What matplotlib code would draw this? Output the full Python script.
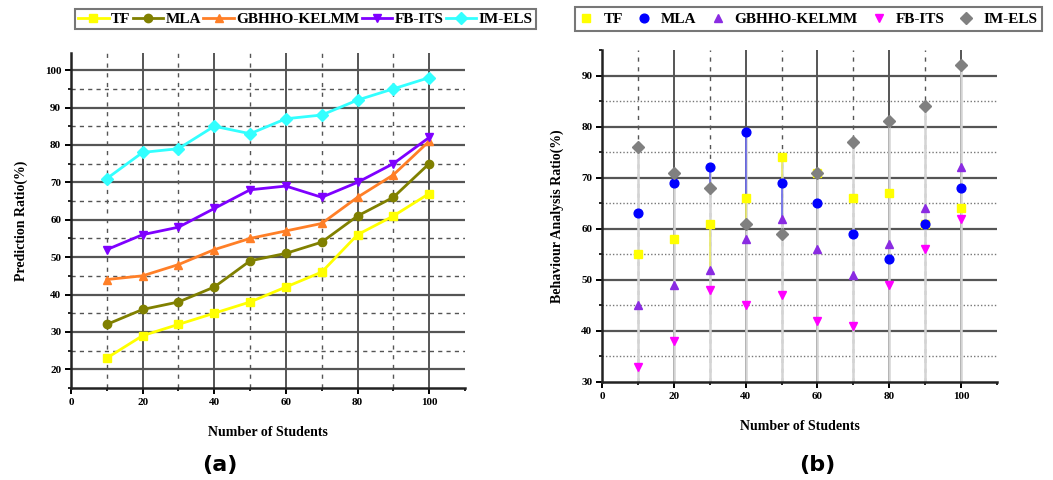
import numpy as np
import matplotlib
matplotlib.use('Agg')
import matplotlib.pyplot as plt
from matplotlib.ticker import MultipleLocator

# data
students = [10, 20, 30, 40, 50, 60, 70, 80, 90, 100]
series_names = ['TF', 'MLA', 'GBHHO-KELMM', 'FB-ITS', 'IM-ELS']

pred_tf = [23, 29, 32, 35, 38, 42, 46, 56, 61, 67]
pred_mla = [32, 36, 38, 42, 49, 51, 54, 61, 66, 75]
pred_gbhho = [44, 45, 48, 52, 55, 57, 59, 66, 72, 81]
pred_fbits = [52, 56, 58, 63, 68, 69, 66, 70, 75, 82]
pred_imels = [71, 78, 79, 85, 83, 87, 88, 92, 95, 98]

beh_tf = [55, 58, 61, 66, 74, 71, 66, 67, 61, 64]
beh_mla = [63, 69, 72, 79, 69, 65, 59, 54, 61, 68]
beh_gbhho = [45, 49, 52, 58, 62, 56, 51, 57, 64, 72]
beh_fbits = [33, 38, 48, 45, 47, 42, 41, 49, 56, 62]
beh_imels = [76, 71, 68, 61, 59, 71, 77, 81, 84, 92]

# columns where the drop lines take the marker colour
coloured_cols = [30, 40, 50]

serif = 'Liberation Serif'
plt.rcParams['font.family'] = serif
plt.rcParams['font.weight'] = 'bold'

fig = plt.figure(figsize=(10.53, 4.8), dpi=100)
ax1 = fig.add_axes([0.0674, 0.1917, 0.3742, 0.698])
ax2 = fig.add_axes([0.5717, 0.2042, 0.3751, 0.6917])

grid_dark = '#555555'


def style_axis(ax, ymin, ymax, ymaj):
    ax.set_xlim(0, 110)
    ax.set_ylim(ymin, ymax)
    ax.xaxis.set_major_locator(MultipleLocator(20))
    ax.xaxis.set_minor_locator(MultipleLocator(10))
    ax.yaxis.set_major_locator(MultipleLocator(ymaj))
    ax.yaxis.set_minor_locator(MultipleLocator(5))
    for s in ['top', 'right']:
        ax.spines[s].set_visible(False)
    for s in ['left', 'bottom']:
        ax.spines[s].set_linewidth(1.8)
        ax.spines[s].set_color('#222222')
    ax.tick_params(which='major', direction='out', length=4, width=1.4, labelsize=8, pad=3)
    ax.tick_params(which='minor', direction='out', length=2.5, width=1.2)


# ---- (a) line chart
style_axis(ax1, 15, 104.6, 10)
ax1.set_yticks(np.arange(20, 101, 10))
for x in range(20, 101, 20):
    ax1.axvline(x, color=grid_dark, lw=1.4, zorder=1)
for x in range(10, 100, 20):
    ax1.axvline(x, color=grid_dark, lw=1.0, ls=(0, (3, 4)), zorder=1)
for y in range(20, 101, 10):
    ax1.axhline(y, color=grid_dark, lw=1.6, zorder=1)
for y in range(25, 100, 10):
    ax1.axhline(y, color=grid_dark, lw=1.0, ls=(0, (3, 3)), zorder=1)

line_styles = [
    (pred_tf, '#ffff00', 's'),
    (pred_mla, '#808000', 'o'),
    (pred_gbhho, '#ff7f27', '^'),
    (pred_fbits, '#7f00ff', 'v'),
    (pred_imels, '#33ffff', 'D'),
]
for name, (vals, col, mk) in zip(series_names, line_styles):
    ax1.plot(students, vals, color=col, marker=mk, lw=2, ms=6, label=name, zorder=3)

ax1.set_xlabel('Number of Students', fontsize=10, fontweight='bold', labelpad=14)
ax1.set_ylabel('Prediction Ratio(%)', fontsize=10, fontweight='bold', labelpad=12)

h1, l1 = ax1.get_legend_handles_labels()
leg1 = fig.legend(h1, l1, loc='center', bbox_to_anchor=(0.290, 0.96), ncol=5,
                  frameon=True, fancybox=False, edgecolor='#555555',
                  prop={'family': serif, 'weight': 'bold', 'size': 11},
                  handlelength=2.0, handletextpad=0.15, columnspacing=0.15,
                  borderpad=0.2, borderaxespad=0)
leg1.get_frame().set_linewidth(1.5)

# ---- (b) scatter chart
style_axis(ax2, 30, 95, 10)
ax2.set_yticks(np.arange(30, 91, 10))
for x in range(20, 101, 20):
    ax2.axvline(x, color=grid_dark, lw=1.4, zorder=1)
for x in range(10, 100, 20):
    ax2.axvline(x, color=grid_dark, lw=1.0, ls=(0, (3, 4)), zorder=1)
for y in range(40, 91, 10):
    ax2.axhline(y, color=grid_dark, lw=1.6, zorder=1)
for y in range(35, 90, 10):
    ax2.axhline(y, color='#777777', lw=1.0, ls=(0, (1, 1.5)), zorder=1)

scatter_styles = [
    (beh_tf, '#ffff00', 's'),
    (beh_mla, '#0000ff', 'o'),
    (beh_gbhho, '#8a2be2', '^'),
    (beh_fbits, '#ff00ff', 'v'),
    (beh_imels, '#808080', 'D'),
]
all_beh = np.array([s[0] for s in scatter_styles])
cols_beh = [s[1] for s in scatter_styles]

# drop lines from the highest point of each column to the x axis
for i, x in enumerate(students):
    col_vals = all_beh[:, i]
    ax2.plot([x, x], [30, col_vals.max()], color='#d4d4d4', lw=1.8, zorder=2)
    if x in coloured_cols:
        order = np.argsort(-col_vals)
        for a, b in zip(order[:-1], order[1:]):
            c = cols_beh[a]
            if c not in ('#0000ff', '#ffff00'):
                continue
            ax2.plot([x, x], [col_vals[a], col_vals[b]], color=c, lw=1.2,
                     alpha=0.5, zorder=2)

for name, (vals, col, mk) in zip(series_names, scatter_styles):
    ax2.plot(students, vals, ls='none', color=col, marker=mk, ms=6.3, label=name, zorder=3)

ax2.set_xlabel('Number of Students', fontsize=10, fontweight='bold', labelpad=14)
ax2.set_ylabel('Behaviour Analysis Ratio(%)', fontsize=10, fontweight='bold', labelpad=12)

h2, l2 = ax2.get_legend_handles_labels()
leg2 = fig.legend(h2, l2, loc='center', bbox_to_anchor=(0.768, 0.96), ncol=5,
                  frameon=True, fancybox=False, edgecolor='#555555',
                  prop={'family': serif, 'weight': 'bold', 'size': 11},
                  handlelength=0.8, handletextpad=0.7, columnspacing=1.0,
                  borderpad=0.35, borderaxespad=0)
leg2.get_frame().set_linewidth(1.5)

# panel captions
fig.text(0.209, 0.032, '(a)', ha='center', va='center', fontsize=16,
         fontweight='bold', family='DejaVu Sans')
fig.text(0.776, 0.032, '(b)', ha='center', va='center', fontsize=16,
         fontweight='bold', family='DejaVu Sans')

fig.savefig('out.png', dpi=100)
